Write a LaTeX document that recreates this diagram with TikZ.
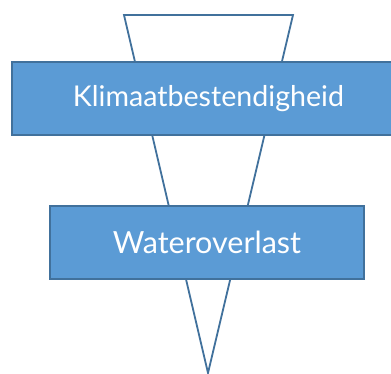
\documentclass[tikz,border=0pt]{standalone}
\usepackage{fontspec}
\setmainfont{Lato}
\definecolor{boxblue}{HTML}{5B9BD5}
\definecolor{edgeblue}{HTML}{41719C}
\begin{document}
\begin{tikzpicture}[x=1pt, y=1pt, main/.style = {draw=edgeblue, line width=2pt, fill=boxblue, text=white, minimum height=73pt, inner sep=0pt}] 
\clip (0,0) rectangle (391,374);
\fill[white] (0,0) rectangle (391,374);

\coordinate (tl) at (124,359); 
\coordinate (tr) at (293,359); 
\coordinate (apex) at (208,1); 
\draw[edgeblue, line width=1.8pt, line join=miter] (tl) -- (tr) -- (apex) -- cycle; 

\node[main, minimum width=393pt, font=\fontsize{28.6}{34}\selectfont] (1) at (208.5,275.5) {Klimaatbestendigheid}; 
\node[main, minimum width=314pt, font=\fontsize{30.5}{36}\selectfont] (2) at (207,131.5) {Wateroverlast}; 

\end{tikzpicture}
\end{document}
